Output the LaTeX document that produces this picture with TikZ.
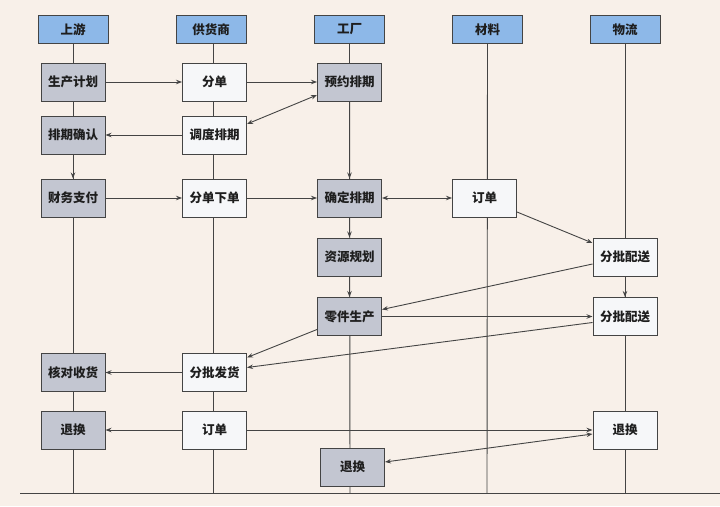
\documentclass[tikz,border=0pt]{standalone}
\usepackage{fontspec}
\newfontfamily\cjk{Noto Sans CJK SC}
\usetikzlibrary{arrows.meta}
\definecolor{bgc}{HTML}{F8F0E9}
\definecolor{hdr}{HTML}{8DB8E8}
\definecolor{gry}{HTML}{C3C6D1}
\definecolor{wht}{HTML}{F6F7F9}
\definecolor{edge}{HTML}{444444}
\definecolor{txt}{HTML}{1E1E1E}
\begin{document}
\begin{tikzpicture}[x=1pt,y=-1pt,
  base/.style={draw=edge,line width=1pt,inner sep=0pt,font=\cjk\bfseries\fontsize{12.5}{14}\selectfont,text=txt},
  hdrbox/.style={base,fill=hdr,minimum width=70pt,minimum height=28pt},
  gbox/.style={base,fill=gry,minimum width=64pt,minimum height=38pt},
  wbox/.style={base,fill=wht,minimum width=64pt,minimum height=38pt},
  life/.style={draw=edge,line width=0.9pt},
  arr/.style={draw=edge,line width=0.9pt,-{Stealth[length=6pt,width=4.5pt]}},
  darr/.style={draw=edge,line width=0.9pt,{Stealth[length=6pt,width=4.5pt]}-{Stealth[length=6pt,width=4.5pt]}}]
\fill[bgc] (0,0) rectangle (720,506);
\useasboundingbox (0,0) rectangle (720,506);
% headers
\node[hdrbox] (h1) at (73,29.5) {上游};
\node[hdrbox] (h2) at (211,29.5) {供货商};
\node[hdrbox] (h3) at (349.5,29.5) {工厂};
\node[hdrbox] (h4) at (487.5,29.5) {材料};
\node[hdrbox] (h5) at (625,29.5) {物流};
% bottom line and lifelines
\coordinate (bl) at (20,493);
\coordinate (br) at (720,493);
\coordinate (e1) at (73,493);
\coordinate (e2) at (213,493);
\coordinate (e3) at (350,493);
\coordinate (e4) at (487,493);
\coordinate (e5) at (625,493);
\draw[life] (h1.south) -- (e1);
\draw[life] ([xshift=2pt]h2.south) -- (e2);
\draw[life] (h3.south) -- (e3);
\draw[life] (h4.south) -- (e4);
\draw[life] (h5.south) -- (e5);
\draw[life] (bl) -- (br);
% boxes
\node[gbox] (scjh) at (73,82) {生产计划};
\node[wbox] (fd) at (214.5,82) {分单};
\node[gbox] (yypq) at (349.5,82) {预约排期};
\node[gbox] (pqqr) at (73,135) {排期确认};
\node[wbox] (ddpq) at (214.5,135) {调度排期};
\node[gbox] (cwzf) at (73,198) {财务支付};
\node[wbox] (fdxd) at (214.5,198) {分单下单};
\node[gbox] (qdpq) at (349.5,198) {确定排期};
\node[wbox] (dd) at (484.5,198) {订单};
\node[gbox] (zygh) at (349.5,257) {资源规划};
\node[wbox] (ppa) at (625,257) {分批配送};
\node[gbox] (ljsc) at (349.5,316.5) {零件生产};
\node[wbox] (ppb) at (625,316.5) {分批配送};
\node[gbox] (hdsh) at (73,372.5) {核对收货};
\node[wbox] (pfh) at (214.5,372.5) {分批发货};
\node[gbox] (tha) at (73,430) {退换};
\node[wbox] (ddb) at (214.5,430) {订单};
\node[wbox] (thc) at (625,430) {退换};
\node[gbox] (thb) at (352.5,467) {退换};
% connectors
\draw[arr] (scjh) -- (fd);
\draw[arr] (fd) -- (yypq);
\draw[darr] ([yshift=11pt]ddpq.east) -- ([yshift=-13pt]yypq.west);
\draw[arr] (ddpq) -- (pqqr);
\draw[arr] (pqqr) -- (cwzf);
\draw[arr] (yypq) -- (qdpq);
\draw[arr] (cwzf) -- (fdxd);
\draw[arr] (fdxd) -- (qdpq);
\draw[darr] (qdpq) -- (dd);
\draw[arr] ([yshift=-14pt]dd.east) -- ([yshift=14pt]ppa.west);
\draw[arr] (qdpq) -- (zygh);
\draw[arr] (zygh) -- (ljsc);
\draw[arr] ([yshift=-7pt]ppa.west) -- ([yshift=7pt]ljsc.east);
\draw[arr] (ppa) -- (ppb);
\draw[arr] (ljsc) -- (ppb);
\draw[arr] ([yshift=-13pt]ljsc.west) -- ([yshift=15pt]pfh.east);
\draw[arr] ([yshift=-6pt]ppb.west) -- ([yshift=5pt]pfh.east);
\draw[arr] (pfh) -- (hdsh);
\draw[arr] (ddb) -- (tha);
\draw[arr] (ddb) -- (thc);
\draw[darr] ([yshift=5pt]thb.east) -- ([yshift=-4pt]thc.west);
\end{tikzpicture}
\end{document}
